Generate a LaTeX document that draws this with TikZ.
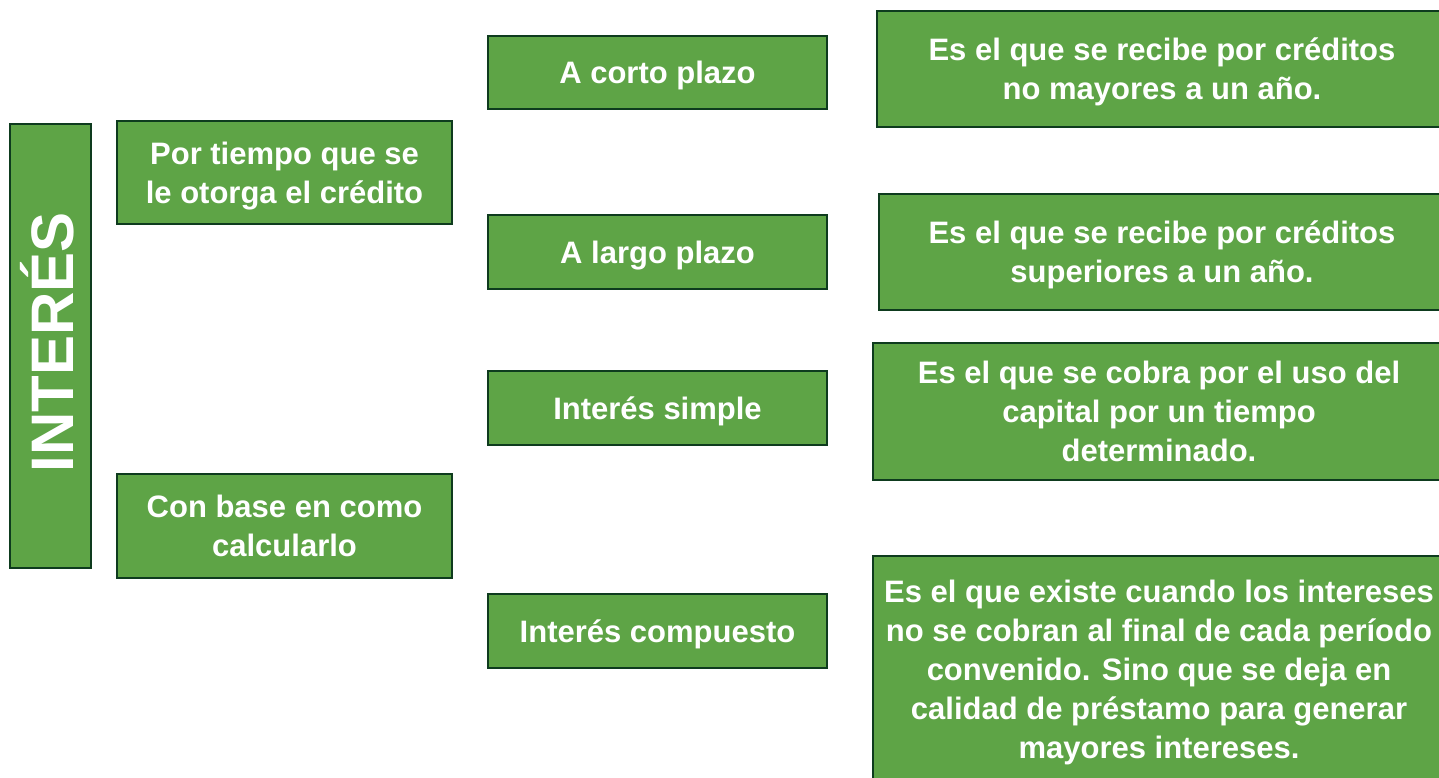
\documentclass[tikz,border=0pt]{standalone}
\usepackage{fontspec}
\setmainfont{Liberation Sans}
\usepackage{tikz}
\usetikzlibrary{positioning}

\definecolor{boxgreen}{RGB}{94,164,70}
\definecolor{boxline}{RGB}{14,59,30}

\begin{document}
\begin{tikzpicture}[x=1pt, y=-1pt,
  box/.style={draw=boxline, line width=2.5pt, fill=boxgreen, text=white,
    font=\bfseries\fontsize{31}{39}\selectfont, align=center, inner sep=0pt,
    text depth=0pt},
  ]

\clip (0,0) rectangle (1439,778);
\useasboundingbox (0,0) rectangle (1439,778);

% title
\node[box, minimum width=81pt, minimum height=444pt] (interes) at (50.5,346) {};
\node[rotate=90, text=white, font=\bfseries\fontsize{60}{60}\selectfont] at ([xshift=-3pt,yshift=4pt]interes.center) {INTERÉS};

% criteria
\node[box, minimum width=335pt, minimum height=103pt] (tiempo) at (284.5,172.5) {Por tiempo que se\\le otorga el crédito};
\node[box, minimum width=335pt, minimum height=104pt] (base) at (284.5,526) {Con base en como\\calcularlo};

% types
\node[box, minimum width=339pt, minimum height=73pt] (corto) at (657.5,72.5) {A corto plazo};
\node[box, minimum width=339pt, minimum height=74pt] (largo) at (657.5,252) {A largo plazo};
\node[box, minimum width=339pt, minimum height=74pt] (simple) at (657.5,408) {Interés simple};
\node[box, minimum width=339pt, minimum height=74pt] (compuesto) at (657.5,631) {Interés compuesto};

% definitions
\node[box, minimum width=570pt, minimum height=116pt] (defcorto) at (1162,69) {Es el que se recibe por créditos\\no mayores a un año.};
\node[box, minimum width=566pt, minimum height=116pt] (deflargo) at (1162,252) {Es el que se recibe por créditos\\superiores a un año.};
\node[box, minimum width=572pt, minimum height=137pt] (defsimple) at (1159,411.5) {Es el que se cobra por el uso del\\capital por un tiempo\\determinado.};
\node[box, minimum width=572pt, minimum height=226pt] (defcompuesto) at (1159,669) {Es el que existe cuando los intereses\\no se cobran al final de cada período\\convenido. Sino que se deja en\\calidad de préstamo para generar\\mayores intereses.};

\end{tikzpicture}
\end{document}
